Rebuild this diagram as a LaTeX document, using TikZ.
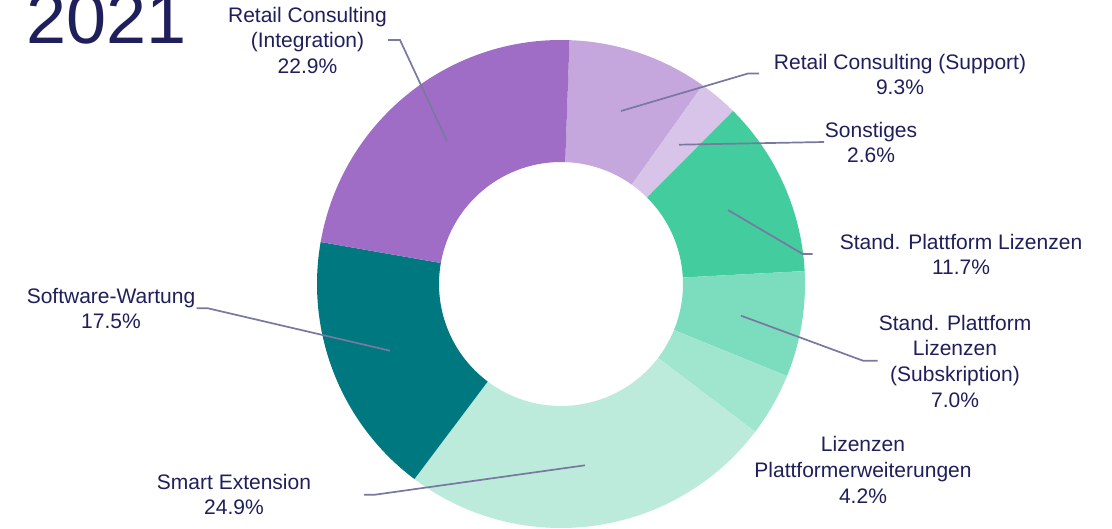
\documentclass[tikz,border=0pt]{standalone}
\usepackage{fontspec}
\setmainfont{Liberation Sans}
\definecolor{txt}{HTML}{1F1F5B}
\definecolor{lead}{HTML}{7878A0}
\definecolor{cInt}{HTML}{A06DC6}
\definecolor{cSup}{HTML}{C5A7DE}
\definecolor{cSon}{HTML}{D8C4E8}
\definecolor{cSPL}{HTML}{43CC9E}
\definecolor{cSub}{HTML}{7BDDBE}
\definecolor{cLiz}{HTML}{A0E6CF}
\definecolor{cSma}{HTML}{BDEBDB}
\definecolor{cSof}{HTML}{007880}
\newcommand\donutslice[3]{\fill[#3] (#1:244pt) arc[start angle=#1,end angle=#2,radius=244pt] -- (#2:122pt) arc[start angle=#2,end angle=#1,radius=122pt] -- cycle;}
\begin{document}
\begin{tikzpicture}[x=1pt,y=1pt,
  lbl/.style={align=center, inner sep=0pt, anchor=north, text=txt, font=\fontsize{21}{25.7}\selectfont},
  leader/.style={draw=lead, line width=1.7pt}]
\useasboundingbox (0,0) rectangle (1112,-528);
\fill[white] (0,0) rectangle (1112,-528);
% donut
\begin{scope}[shift={(561,-284)}]
\donutslice{88}{54.52}{cSup}
\donutslice{54.52}{45.16}{cSon}
\donutslice{45.16}{3.04}{cSPL}
\donutslice{3.04}{-22.16}{cSub}
\donutslice{-22.16}{-37.28}{cLiz}
\donutslice{-37.28}{-126.92}{cSma}
\donutslice{-126.92}{-189.92}{cSof}
\donutslice{-189.92}{-272}{cInt}
\end{scope}
% title
\node[anchor=base west, inner sep=0pt, text=txt, font=\fontsize{72}{80}\selectfont] (title) at (26,-43) {2021};
% labels
\node[lbl] (lInt) at (307.5,-6.8) {Retail Consulting\\(Integration)\\22.9\%};
\node[lbl] (lSup) at (900,-53.8) {Retail Consulting (Support)\\9.3\%};
\node[lbl] (lSon) at (871,-121.8) {Sonstiges\\2.6\%};
\node[lbl] (lSPL) at (961,-233.8) {Stand. Plattform Lizenzen\\11.7\%};
\node[lbl] (lSub) at (955,-314.8) {Stand. Plattform\\Lizenzen\\(Subskription)\\7.0\%};
\node[lbl] (lLiz) at (863,-436.5) {Lizenzen\\Plattformerweiterungen\\4.2\%};
\node[lbl] (lSof) at (111,-287.8) {Software-Wartung\\17.5\%};
\node[lbl] (lSma) at (234,-473.8) {Smart Extension\\24.9\%};
% leader coordinates
\coordinate (sInt) at (447,-141); \coordinate (kInt) at (400,-40); \coordinate (eInt) at (388,-40);
\coordinate (sSup) at (621,-111); \coordinate (kSup) at (748,-73.5); \coordinate (eSup) at (759,-73.5);
\coordinate (sSon) at (679,-144.7); \coordinate (eSon) at (824,-142);
\coordinate (sSPL) at (728,-210); \coordinate (kSPL) at (802.7,-254); \coordinate (eSPL) at (812.7,-254);
\coordinate (sSub) at (741,-315.7); \coordinate (kSub) at (863,-360.7); \coordinate (eSub) at (877.7,-360.7);
\coordinate (sSof) at (390,-350.7); \coordinate (kSof) at (208,-308.3); \coordinate (eSof) at (196.7,-308.3);
\coordinate (sSma) at (585,-465.3); \coordinate (kSma) at (375,-494.7); \coordinate (eSma) at (364,-494.7);
\draw[leader] (sInt) -- (kInt) -- (eInt);
\draw[leader] (sSup) -- (kSup) -- (eSup);
\draw[leader] (sSon) -- (eSon);
\draw[leader] (sSPL) -- (kSPL) -- (eSPL);
\draw[leader] (sSub) -- (kSub) -- (eSub);
\draw[leader] (sSof) -- (kSof) -- (eSof);
\draw[leader] (sSma) -- (kSma) -- (eSma);
\end{tikzpicture}
\end{document}
